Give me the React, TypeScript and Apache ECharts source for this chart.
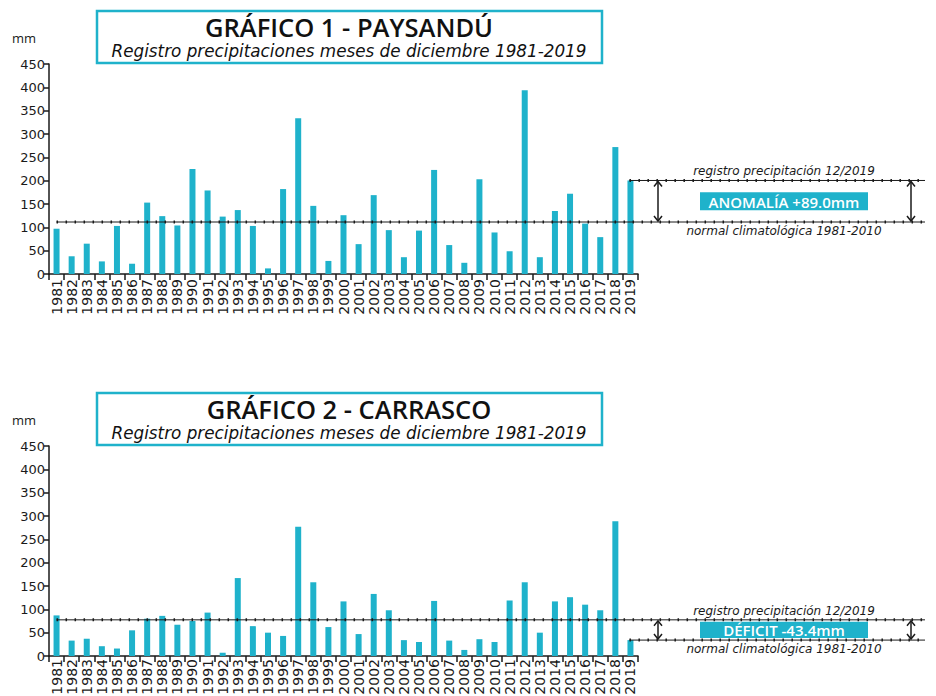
import React, { useEffect, useRef } from 'react';
import * as echarts from 'echarts';

const years = ['1981','1982','1983','1984','1985','1986','1987','1988','1989','1990','1991','1992','1993','1994','1995','1996','1997','1998','1999','2000','2001','2002','2003','2004','2005','2006','2007','2008','2009','2010','2011','2012','2013','2014','2015','2016','2017','2018','2019'];
const paysandu = [97,38,65,27,103,22,153,124,104,225,179,123,137,103,12,182,334,146,28,126,64,169,94,36,93,223,62,24,203,89,49,394,36,135,172,108,79,272,200.4];
const carrasco = [87,33,37,21,16,55,80,86,67,75,93,7,167,64,50,43,277,158,62,117,47,133,98,34,30,118,33,13,36,30,119,158,50,117,126,110,98,289,34.1];
const normals = [111.4, 77.5];
const titles = ['GRÁFICO 1 - PAYSANDÚ', 'GRÁFICO 2 - CARRASCO'];
const subtitle = 'Registro precipitaciones meses de diciembre 1981-2019';
const labelRecord = 'registro precipitación 12/2019';
const labelNormal = 'normal climatológica 1981-2010';
const badges = ['ANOMALÍA +89.0mm', 'DÉFICIT -43.4mm'];
const unit = 'mm';

const TEAL = '#1fb2cb';
const INK = '#1a1a1a';
const FONT = '"Open Sans", "Noto Sans", sans-serif';
const WIDE = '"DejaVu Sans", "Noto Sans", sans-serif';

export default function App() {
  const ref = useRef<HTMLDivElement>(null);
  useEffect(() => {
    const el = ref.current!;
    const chart = echarts.init(el, null, { renderer: 'svg' });
    const series = [paysandu, carrasco];
    const gridTops = [64, 446];
    const labelMargins = [5, 3];
    const mkX = (i: number) => ({
      type: 'category', gridIndex: i, data: years, boundaryGap: true,
      axisLine: { lineStyle: { color: INK, width: 1.5 } },
      axisTick: { show: true, length: 6, lineStyle: { color: INK, width: 1.5 } },
      axisLabel: { rotate: 90, interval: 0, fontSize: 14, color: INK, fontFamily: WIDE, margin: labelMargins[i] },
    });
    const mkY = (i: number) => ({
      type: 'value', gridIndex: i, min: 0, max: 450, interval: 50,
      axisLine: { show: true, lineStyle: { color: INK, width: 1.5 } },
      axisTick: { show: true, length: 5, lineStyle: { color: INK, width: 1.5 } },
      axisLabel: { fontSize: 13, color: INK, fontFamily: WIDE, margin: 4 },
      splitLine: { show: false },
    });
    chart.setOption({
      animation: false,
      grid: gridTops.map((t) => ({ left: 49, top: t, width: 589, height: 210, containLabel: false, outerBoundsMode: 'none' })),
      xAxis: [mkX(0), mkX(1)],
      yAxis: [mkY(0), mkY(1)],
      series: series.map((d, i) => ({
        type: 'bar', xAxisIndex: i, yAxisIndex: i, data: d, barWidth: 6,
        itemStyle: { color: TEAL }, silent: true,
      })),
    });

    const graphics: any[] = [];
    const dotted = (x1: number, y: number, x2: number) => {
      graphics.push({ type: 'line', shape: { x1, y1: y, x2, y2: y }, style: { stroke: INK, lineWidth: 1 }, z: 10 });
      graphics.push({ type: 'line', shape: { x1, y1: y, x2, y2: y }, style: { stroke: INK, lineWidth: 3, lineDash: [1.5, 7.5] }, z: 10 });
    };
    const arrow = (x: number, y1: number, y2: number) => {
      graphics.push({ type: 'line', shape: { x1: x, y1: y1 + 1, x2: x, y2: y2 - 1 }, style: { stroke: INK, lineWidth: 1.5 }, z: 10 });
      graphics.push({ type: 'polyline', shape: { points: [[x - 4, y1 + 6], [x, y1 + 1], [x + 4, y1 + 6]] }, style: { stroke: INK, lineWidth: 1.5, fill: 'none' }, z: 10 });
      graphics.push({ type: 'polyline', shape: { points: [[x - 4, y2 - 6], [x, y2 - 1], [x + 4, y2 - 6]] }, style: { stroke: INK, lineWidth: 1.5, fill: 'none' }, z: 10 });
    };

    [0, 1].forEach((i) => {
      const d = series[i];
      const boxTop = i === 0 ? 11 : 393;
      graphics.push({ type: 'rect', shape: { x: 97, y: boxTop, width: 505, height: 52 }, style: { fill: '#fff', stroke: TEAL, lineWidth: 2.5 }, z: 5 });
      graphics.push({ type: 'text', x: 349, y: boxTop + 16, style: { text: titles[i], font: `600 25.5px ${FONT}`, fill: '#111', textAlign: 'center', textVerticalAlign: 'middle' }, z: 6 });
      graphics.push({ type: 'text', x: 349, y: boxTop + 40, style: { text: subtitle, font: `italic 400 16.8px ${WIDE}`, fill: '#111', textAlign: 'center', textVerticalAlign: 'middle' }, z: 6 });
      graphics.push({ type: 'text', x: 12, y: i === 0 ? 38 : 420, style: { text: unit, font: `400 13px ${FONT}`, fill: INK, textAlign: 'left', textVerticalAlign: 'middle' }, z: 6 });

      const pN = chart.convertToPixel({ xAxisIndex: i, yAxisIndex: i } as any, [0, normals[i]]) as number[];
      const last = d.length - 1;
      const pR = chart.convertToPixel({ xAxisIndex: i, yAxisIndex: i } as any, [last, d[last]]) as number[];
      const xEnd = 925;
      dotted(pN[0], pN[1], xEnd);
      dotted(pR[0] - 1, pR[1], xEnd);
      const yUp = Math.min(pN[1], pR[1]);
      const yLo = Math.max(pN[1], pR[1]);
      arrow(658, yUp, yLo);
      arrow(911, yUp, yLo);
      graphics.push({ type: 'text', x: 784, y: yUp - 3, style: { text: labelRecord, font: `italic 400 12px ${WIDE}`, fill: INK, textAlign: 'center', textVerticalAlign: 'bottom' }, z: 10 });
      graphics.push({ type: 'text', x: 784, y: yLo + 3, style: { text: labelNormal, font: `italic 400 12px ${WIDE}`, fill: INK, textAlign: 'center', textVerticalAlign: 'top' }, z: 10 });
      const bh = Math.min(18, yLo - yUp - 4);
      const bm = (yUp + yLo) / 2;
      graphics.push({ type: 'rect', shape: { x: 700, y: bm - bh / 2, width: 168, height: bh }, style: { fill: TEAL }, z: 9 });
      graphics.push({ type: 'text', x: 784, y: bm + 0.5, style: { text: badges[i], font: `600 15px ${FONT}`, fill: '#fff', textAlign: 'center', textVerticalAlign: 'middle' }, z: 10 });
    });
    chart.setOption({ graphic: { elements: graphics } });
    return () => chart.dispose();
  }, []);
  return <div ref={ref} style={{ position: 'absolute', left: 0, top: 0, width: 936, height: 696, background: '#fff' }} />;
}
